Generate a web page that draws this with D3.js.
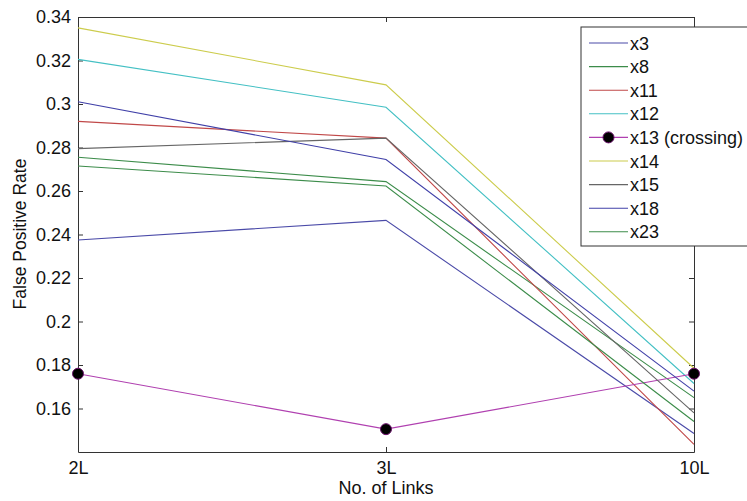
<!DOCTYPE html>
<html>
<head>
<meta charset="utf-8">
<script src="https://d3js.org/d3.v7.min.js"></script>
<style>
  body { margin: 0; background: #fff; }
  text { font-family: "Liberation Sans", Arial, sans-serif; fill: #111; }
</style>
</head>
<body>
<script>
let width = 747, height = 501

// data
const links = ['2L', '3L', '10L']
const seriesNames = ['x3', 'x8', 'x11', 'x12', 'x13 (crossing)', 'x14', 'x15', 'x18', 'x23']
const seriesColors = ['#4a4aa8', '#3c8c4a', '#c04848', '#44c0c4', '#b040b0', '#cccc4c', '#666666', '#4040a8', '#3c8c4a']
const x3 = [0.2375, 0.2465, 0.1485]
const x8 = [0.2755, 0.2643, 0.165]
const x11 = [0.292, 0.2843, 0.1435]
const x12 = [0.3205, 0.2985, 0.1715]
const x13 = [0.176, 0.1505, 0.176]
const x14 = [0.335, 0.3088, 0.1785]
const x15 = [0.2795, 0.2843, 0.158]
const x18 = [0.301, 0.2745, 0.168]
const x23 = [0.2715, 0.2623, 0.154]
const seriesValues = [x3, x8, x11, x12, x13, x14, x15, x18, x23]
const yTicks = [0.16, 0.18, 0.2, 0.22, 0.24, 0.26, 0.28, 0.3, 0.32, 0.34]

const fontSize = '18px'

let margin = {left: 78, right: 53, top: 17, bottom: 49}
let plotW = width - margin.left - margin.right,
    plotH = height - margin.top - margin.bottom

let svg = d3.select('body').append('svg')
  .attr('width', width)
  .attr('height', height)

let g = svg.append('g').attr('transform', `translate(${margin.left},${margin.top})`)

let x = d3.scalePoint().domain(links).range([0, plotW])
let y = d3.scaleLinear().domain([0.14, 0.34]).range([plotH, 0])

// axes: ticks inward, mirrored like a matlab box
g.append('g').call(d3.axisLeft(y).tickValues(yTicks).tickFormat(d3.format('~g')).tickSizeInner(-5).tickSizeOuter(0).tickPadding(7))
g.append('g').attr('transform', `translate(${plotW},0)`)
  .call(d3.axisRight(y).tickValues(yTicks).tickFormat('').tickSizeInner(-5).tickSizeOuter(0))
g.append('g').attr('transform', `translate(0,${plotH})`)
  .call(d3.axisBottom(x).tickSizeInner(-5).tickSizeOuter(0).tickPadding(9))
g.append('g')
  .call(d3.axisTop(x).tickFormat('').tickSizeInner(-5).tickSizeOuter(0))

g.selectAll('.domain').attr('stroke', '#333')
g.selectAll('.tick line').attr('stroke', '#333')
g.selectAll('.tick text').style('font-size', fontSize).attr('fill', '#111')

let line = d3.line().x((d, i) => x(links[i])).y(d => y(d))

seriesValues.forEach((vals, k) => {
  g.append('path')
    .datum(vals)
    .attr('d', line)
    .attr('fill', 'none')
    .attr('stroke', seriesColors[k])
    .attr('stroke-width', 1.1)
})

// crossing markers
g.selectAll('circle.mark').data(x13).enter().append('circle')
  .attr('class', 'mark')
  .attr('cx', (d, i) => x(links[i]))
  .attr('cy', d => y(d))
  .attr('r', 5.5)
  .attr('fill', '#000')
  .attr('stroke', '#6a106a')
  .attr('stroke-width', 1)

// axis labels
svg.append('text')
  .attr('transform', `translate(26,234) rotate(-90)`)
  .attr('text-anchor', 'middle')
  .style('font-size', '17.5px')
  .text('False Positive Rate')

svg.append('text')
  .attr('x', margin.left + plotW / 2)
  .attr('y', 494)
  .attr('text-anchor', 'middle')
  .style('font-size', fontSize)
  .text('No. of Links')

// legend
let legend = svg.append('g').attr('transform', 'translate(581,27)')
legend.append('rect')
  .attr('width', 172)
  .attr('height', 219)
  .attr('fill', '#fff')
  .attr('stroke', '#333')

let rowH = 23.6
seriesNames.forEach((name, k) => {
  let ry = 16 + k * rowH
  legend.append('line')
    .attr('x1', 8).attr('x2', 47)
    .attr('y1', ry).attr('y2', ry)
    .attr('stroke', seriesColors[k])
    .attr('stroke-width', 1.1)
  if (name.startsWith('x13')) {
    legend.append('circle')
      .attr('cx', 27.5).attr('cy', ry).attr('r', 5.5)
      .attr('fill', '#000').attr('stroke', '#6a106a')
  }
  legend.append('text')
    .attr('x', 49)
    .attr('y', ry + 6.5)
    .style('font-size', fontSize)
    .text(name)
})
</script>
</body>
</html>
